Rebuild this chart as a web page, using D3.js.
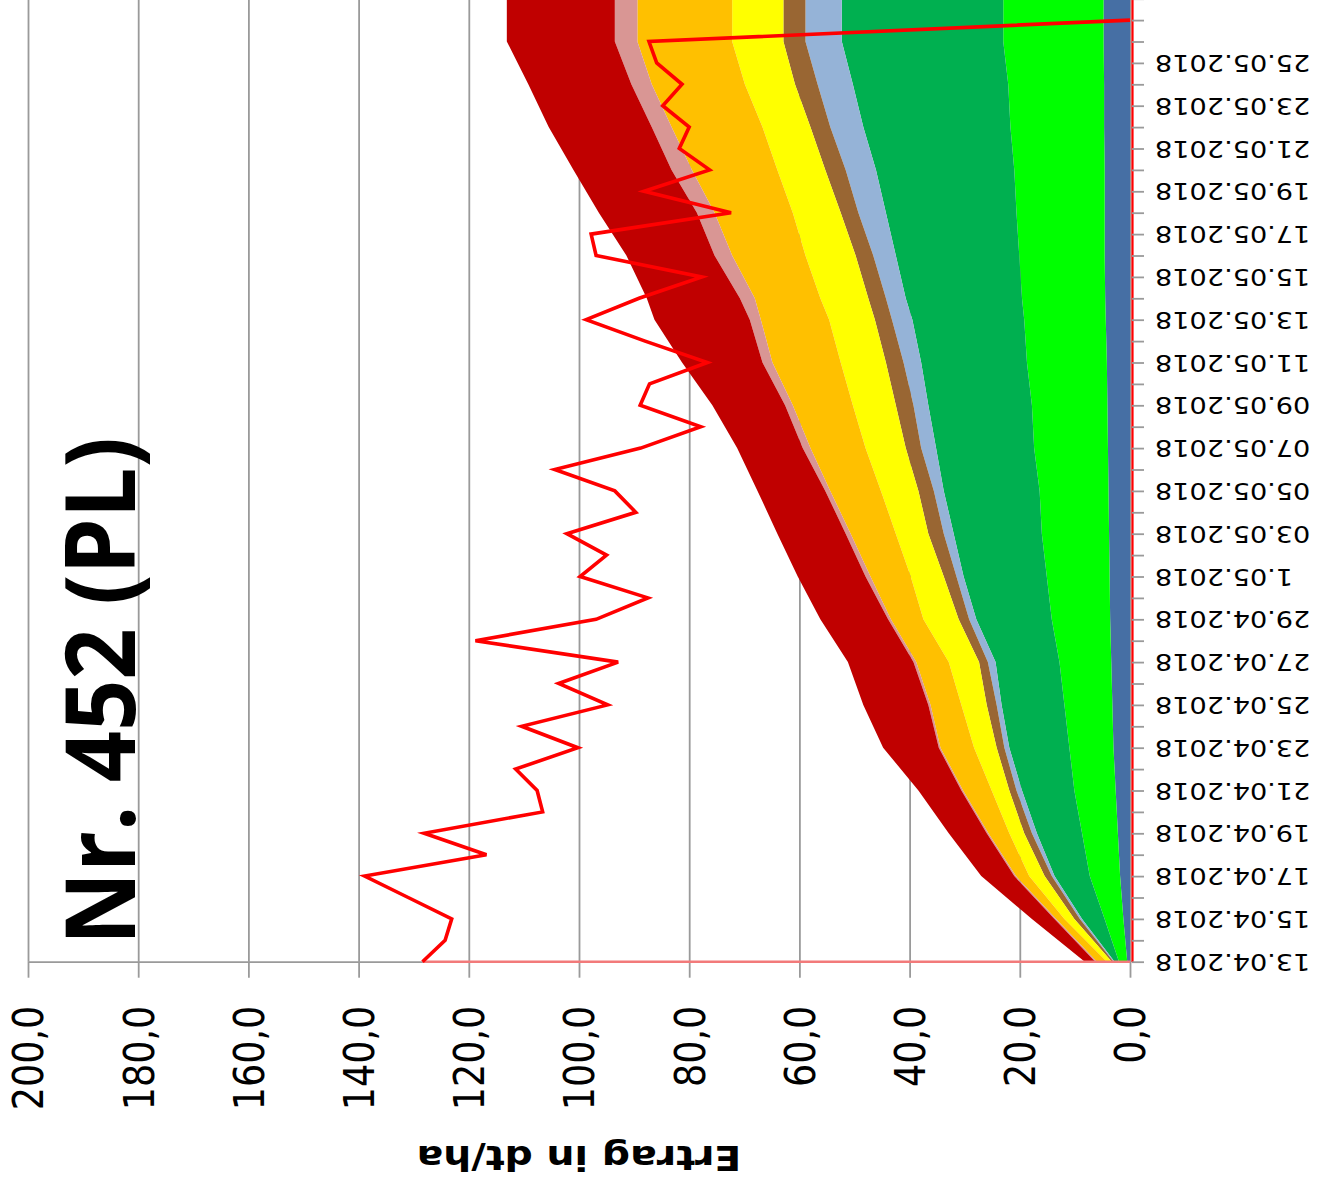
<!DOCTYPE html>
<html><head><meta charset="utf-8">
<script src="https://cdn.jsdelivr.net/npm/d3@7"></script>
<style>body{margin:0;background:#fff}svg{display:block}</style>
</head><body>
<svg id="chart" width="1326" height="1191"></svg>
<script>
// ---------- data ----------
const areaDates = ["13.04.2018","15.04.2018","17.04.2018","19.04.2018","21.04.2018","23.04.2018","25.04.2018","27.04.2018","29.04.2018","01.05.2018","03.05.2018","05.05.2018","07.05.2018","09.05.2018","11.05.2018","13.05.2018","14.05.2018","16.05.2018","18.05.2018","20.05.2018","22.05.2018","24.05.2018","26.05.2018","27.05.2018","28.05.2018"];
const seriesKeys = ["blau","hellgruen","gruen","hellblau","braun","gelb","orange","rosa","rot"];
const seriesColors = ["#466fa4","#00ff00","#00b050","#95b3d7","#996633","#ffff00","#ffc000","#d99694","#c00000"];
const blau      = [0.5,1.2,1.8,2.2,2.6,3.0,3.2,3.4,3.6,3.7,3.8,3.9,4.0,4.1,4.2,4.4,4.5,4.6,4.6,4.6,4.7,4.7,4.8,4.8,4.8];
const hellgruen = [1.5,3.4,5.5,6.5,7.5,8.0,8.7,9.4,10.6,11.4,12.2,12.5,13.4,13.7,14.5,14.8,15.1,15.5,16.0,16.4,17.0,17.4,18.2,18.2,18.2];
const gruen     = [0.8,4.1,6.4,8.2,9.5,10.9,11.4,11.6,13.7,15.1,16.0,17.4,17.8,18.8,19.2,20.3,21.1,22.4,23.7,25.1,26.7,28.2,29.3,29.3,29.3];
const hellblau  = [0.2,0.4,0.5,0.9,1.0,0.9,0.9,1.4,1.3,1.3,1.8,1.8,2.7,2.7,3.2,3.7,3.6,4.1,5.0,5.5,6.0,6.4,6.6,6.6,6.6];
const braun     = [0.3,1.0,1.3,1.4,1.3,1.4,1.8,1.6,1.9,2.3,2.8,2.8,2.8,3.2,3.2,3.1,3.2,3.2,3.2,3.7,3.6,4.1,4.0,4.0,4.0];
const gelb      = [0.9,1.8,2.8,2.7,3.2,4.1,4.6,5.5,6.4,6.0,5.9,6.8,7.3,7.8,8.2,8.3,8.7,9.1,8.7,8.7,8.7,9.1,9.3,9.3,9.3];
const orange    = [1.8,1.5,2.4,3.8,5.2,6.1,5.6,5.9,5.9,7.3,8.2,9.2,10.0,10.9,12.4,12.4,11.9,13.3,14.2,15.5,16.5,16.9,17.2,17.2,17.2];
const rosa      = [0.3,0.3,0.3,0.3,0.3,0.3,0.4,0.5,0.5,0.9,0.9,0.9,1.4,1.4,1.8,2.0,2.7,3.2,3.2,3.7,3.6,3.7,4.1,4.1,4.1];
const rot       = [1.9,4.1,6.0,6.9,7.8,10.1,11.8,11.9,12.3,12.3,12.4,12.3,11.9,13.2,14.6,17.3,16.9,16.0,17.8,17.8,18.7,18.7,19.6,19.6,19.6];

const lineDates = ["13.04.2018","14.04.2018","15.04.2018","16.04.2018","17.04.2018","18.04.2018","19.04.2018","20.04.2018","21.04.2018","22.04.2018","23.04.2018","24.04.2018","25.04.2018","26.04.2018","27.04.2018","28.04.2018","29.04.2018","30.04.2018","01.05.2018","02.05.2018","03.05.2018","04.05.2018","05.05.2018","06.05.2018","07.05.2018","08.05.2018","09.05.2018","10.05.2018","11.05.2018","12.05.2018","13.05.2018","14.05.2018","15.05.2018","16.05.2018","17.05.2018","18.05.2018","19.05.2018","20.05.2018","21.05.2018","22.05.2018","23.05.2018","24.05.2018","25.05.2018","26.05.2018","27.05.2018"];
const ertrag = [128.4,124.3,123.1,131.0,138.9,116.8,128.1,106.6,107.6,111.5,100.2,110.4,94.8,103.7,92.9,118.8,96.9,87.5,99.8,95.0,102.2,89.7,93.5,104.4,88.8,77.9,88.9,87.2,76.7,88.0,98.7,89.1,77.7,96.9,97.8,72.4,88.2,76.3,81.8,80.0,84.8,81.3,85.9,87.3,0];

const dateTickLabels = ["13.04.2018","15.04.2018","17.04.2018","19.04.2018","21.04.2018","23.04.2018","25.04.2018","27.04.2018","29.04.2018","1.05.2018","03.05.2018","05.05.2018","07.05.2018","09.05.2018","11.05.2018","13.05.2018","15.05.2018","17.05.2018","19.05.2018","21.05.2018","23.05.2018","25.05.2018"];
const dateTickDates  = ["13.04.2018","15.04.2018","17.04.2018","19.04.2018","21.04.2018","23.04.2018","25.04.2018","27.04.2018","29.04.2018","01.05.2018","03.05.2018","05.05.2018","07.05.2018","09.05.2018","11.05.2018","13.05.2018","15.05.2018","17.05.2018","19.05.2018","21.05.2018","23.05.2018","25.05.2018"];
const valueTicks = [0,20,40,60,80,100,120,140,160,180,200];
const axisStart = "13.04.2018", axisEnd = "28.05.2018";
const titleText = "Nr. 452 (PL)";
const axisTitle = "Ertrag in dt/ha";

// ---------- drawing ----------
const parse = d3.utcParse("%d.%m.%Y");
const svg = d3.select("#chart");
const STRETCH = 1.16;

const yDate = d3.scaleUtc().domain([parse(axisStart), parse(axisEnd)]).range([961.7, -1.3]);
const xVal = d3.scaleLinear().domain([0, 200]).range([1130, 28]);
const baseY = yDate(parse(axisStart));
const axisX = xVal(0) + 2;

// gridlines
svg.append("g").attr("transform", `translate(0,${baseY})`)
  .call(d3.axisBottom(xVal).tickValues(valueTicks).tickSizeInner(-(baseY - yDate(parse(axisEnd)))).tickSizeOuter(0).tickFormat(""))
  .call(g => g.select(".domain").remove())
  .call(g => g.selectAll(".tick line").attr("stroke", "#9a9a9a").attr("stroke-width", 1.8));

// stacked areas
const seriesData = {blau, hellgruen, gruen, hellblau, braun, gelb, orange, rosa, rot};
const rows = areaDates.map((d, i) => {
  const r = {date: parse(d)};
  seriesKeys.forEach(k => r[k] = seriesData[k][i]);
  return r;
});
const stacked = d3.stack().keys(seriesKeys)(rows);
const area = d3.area()
  .y(d => yDate(d.data.date))
  .x0(d => xVal(d[0]))
  .x1(d => xVal(d[1]));
svg.append("g").selectAll("path").data(stacked).join("path")
  .attr("d", area)
  .attr("fill", (d, i) => seriesColors[i]);

// value axis (ticks below + labels)
const fmt = v => v.toFixed(1).replace(".", ",");
svg.append("g").attr("transform", `translate(0,${baseY})`)
  .call(d3.axisBottom(xVal).tickValues(valueTicks).tickSizeInner(16).tickSizeOuter(0).tickFormat(fmt))
  .call(g => g.select(".domain").attr("stroke", "#9a9a9a").attr("stroke-width", 1.8))
  .call(g => g.selectAll(".tick line").attr("stroke", "#9a9a9a").attr("stroke-width", 1.8))
  .call(g => g.selectAll(".tick text")
    .attr("y", null).attr("dy", null)
    .attr("text-anchor", "end")
    .attr("dominant-baseline", "central")
    .attr("transform", `translate(0,44) rotate(-90) scale(1,${STRETCH})`)
    .attr("font-family", "DejaVu Sans")
    .attr("font-size", 36.5)
    .attr("fill", "#000"));

// date axis
const labelMap = new Map(dateTickDates.map((d, i) => [+parse(d), dateTickLabels[i]]));
svg.append("g").attr("transform", `translate(${axisX},0)`)
  .call(d3.axisRight(yDate).ticks(d3.utcDay.every(1)).tickSizeInner(12).tickSizeOuter(0)
    .tickFormat(d => labelMap.get(+d) || ""))
  .call(g => g.select(".domain").attr("stroke", "#ff0000").attr("stroke-width", 2.2))
  .call(g => g.selectAll(".tick line").attr("stroke", "#9a9a9a").attr("stroke-width", 1.8))
  .call(g => g.selectAll(".tick text")
    .attr("x", null).attr("dy", null)
    .attr("text-anchor", "end")
    .attr("dominant-baseline", "central")
    .attr("transform", `translate(23,0) rotate(180) scale(${STRETCH},1)`)
    .attr("font-family", "DejaVu Sans")
    .attr("font-size", 23.4)
    .attr("fill", "#000"));

// first segment of the red series at start date (lighter)
svg.append("line")
  .attr("x1", xVal(0)).attr("x2", xVal(ertrag[0]))
  .attr("y1", yDate(parse(lineDates[0]))).attr("y2", yDate(parse(lineDates[0])))
  .attr("stroke", "#f27a7a").attr("stroke-width", 2.6);

// red line
const line = d3.line().x((d, i) => xVal(ertrag[i])).y(d => yDate(parse(d)));
svg.append("path").attr("d", line(lineDates))
  .attr("fill", "none").attr("stroke", "#ff0000").attr("stroke-width", 3.6)
  .attr("stroke-linejoin", "miter");

// title
svg.append("text")
  .attr("transform", `translate(135,945) rotate(-90) scale(1,${STRETCH})`)
  .attr("text-anchor", "start")
  .attr("font-family", "Open Sans")
  .attr("font-weight", 700)
  .attr("font-size", 84)
  .attr("textLength", 508)
  .attr("lengthAdjust", "spacingAndGlyphs")
  .attr("fill", "#000")
  .text(titleText);

// axis title
svg.append("text")
  .attr("transform", `translate(${(xVal(0) + xVal(200)) / 2},1158) rotate(180) scale(${STRETCH},1)`)
  .attr("text-anchor", "middle")
  .attr("dominant-baseline", "central")
  .attr("font-family", "DejaVu Sans")
  .attr("font-weight", 700)
  .attr("font-size", 34)
  .attr("fill", "#000")
  .text(axisTitle);
</script>
</body></html>
